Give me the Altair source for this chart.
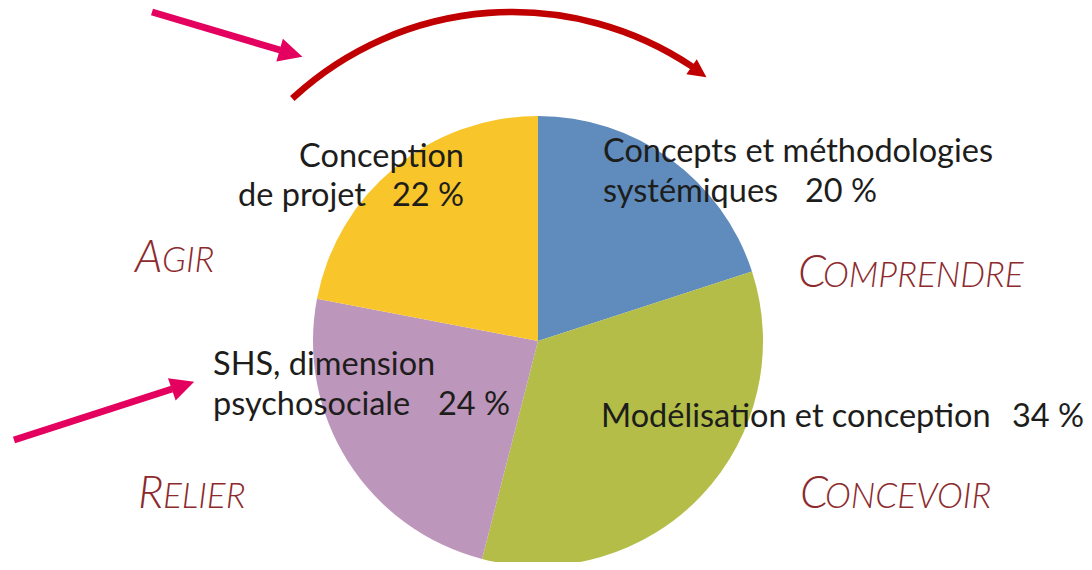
import altair as alt
import pandas as pd

# ---------------- data ----------------
categories = ["Concepts et méthodologies systémiques", "Modélisation et conception",
              "SHS, dimension psychosociale", "Conception de projet"]
shares = [20, 34, 24, 22]
slice_colors = ["#5f8bbd", "#b3bd48", "#bd96bb", "#f8c62b"]

# label text lines (image coordinates: left / baseline)
label_text = ["Concepts et méthodologies", "systémiques", "20 %",
              "Modélisation et conception", "34 %",
              "SHS, dimension", "psychosociale", "24 %",
              "de projet"]
label_x = [603, 603, 805, 601, 1012, 213, 213, 438, 238]
label_y = [162, 202, 202, 427, 427, 375, 415, 415, 206]

right_text = ["Conception", "22 %"]
right_x = [464, 464]
right_y = [167, 206]

# verbs in small caps: big initial + rest
verb_first = ["A", "C", "R", "C"]
verb_rest = ["GIR", "OMPRENDRE", "ELIER", "ONCEVOIR"]
verb_x = [135, 798, 138, 800]
verb_rest_x = [162, 823, 163, 825]
verb_y = [272, 287, 508, 508]

# decorations (arrows)
arrow_id = ["a1", "a1", "a2", "a2"]
arrow_x = [152, 280, 14, 172]
arrow_y = [12, 50, 440, 389]
head_x = [291, 183, 699]
head_y = [53.5, 385.5, 72]
head_angle = [106, 71, 125]
head_size = [560, 560, 330]
head_color = ["#e3005e", "#e3005e", "#c00000"]

W, H = 1076, 554
xs = alt.Scale(domain=[8, 8 + W], range=[0, W])
ys = alt.Scale(domain=[8, 8 + H], range=[0, H])

pie_center = (538, 341)
pie_radius = 225

# ---------------- layers ----------------
shadow = alt.Chart(pd.DataFrame({"v": [1]})).mark_arc(
    radius=pie_radius + 1, color="#9c9c9c", opacity=0.8
).encode(
    theta=alt.Theta("v:Q"),
    x=alt.X(datum=pie_center[0] + 1.5, scale=xs, axis=None),
    y=alt.Y(datum=pie_center[1] + 2, scale=ys, axis=None),
)

pie_df = pd.DataFrame({"cat": categories, "pct": shares, "ord": list(range(len(shares)))})
pie = alt.Chart(pie_df).mark_arc(radius=pie_radius).encode(
    theta=alt.Theta("pct:Q", stack=True),
    color=alt.Color("cat:N", scale=alt.Scale(domain=categories, range=slice_colors), legend=None),
    order=alt.Order("ord:Q"),
    x=alt.X(datum=pie_center[0], scale=xs, axis=None),
    y=alt.Y(datum=pie_center[1], scale=ys, axis=None),
)

red_arc = alt.Chart(pd.DataFrame({"v": [1]})).mark_arc(
    radius=323.6, radius2=323.0, theta=5.5437, theta2=6.873,
    fillOpacity=0, stroke="#c00000", strokeWidth=6
).encode(
    x=alt.X(datum=512.4, scale=xs, axis=None),
    y=alt.Y(datum=335.3, scale=ys, axis=None),
)

arrows_df = pd.DataFrame({"id": arrow_id, "x": arrow_x, "y": arrow_y, "o": [0, 1, 0, 1]})
arrows = alt.Chart(arrows_df).mark_line(color="#e3005e", strokeWidth=7, strokeCap="butt").encode(
    x=alt.X("x:Q", scale=xs, axis=None),
    y=alt.Y("y:Q", scale=ys, axis=None),
    detail="id:N",
    order="o:Q",
)

heads_df = pd.DataFrame({"x": head_x, "y": head_y, "a": head_angle, "s": head_size, "c": head_color})
heads = alt.Chart(heads_df).mark_point(
    shape="M0,-1L1,1L-1,1Z", filled=True, opacity=1, strokeWidth=0
).encode(
    x=alt.X("x:Q", scale=xs, axis=None),
    y=alt.Y("y:Q", scale=ys, axis=None),
    angle=alt.Angle("a:Q", scale=None),
    size=alt.Size("s:Q", scale=None),
    color=alt.Color("c:N", scale=None),
)

FS = 32.5
lab_df = pd.DataFrame({"t": label_text, "x": label_x, "y": label_y})
labels = alt.Chart(lab_df).mark_text(
    align="left", baseline="alphabetic", font="Lato", fontSize=FS, color="#1d1d1b"
).encode(
    x=alt.X("x:Q", scale=xs, axis=None),
    y=alt.Y("y:Q", scale=ys, axis=None),
    text="t:N",
)

rlab_df = pd.DataFrame({"t": right_text, "x": right_x, "y": right_y})
rlabels = alt.Chart(rlab_df).mark_text(
    align="right", baseline="alphabetic", font="Lato", fontSize=FS, color="#1d1d1b"
).encode(
    x=alt.X("x:Q", scale=xs, axis=None),
    y=alt.Y("y:Q", scale=ys, axis=None),
    text="t:N",
)

verb_color = "#8c2a2d"
v1_df = pd.DataFrame({"t": verb_first, "x": verb_x, "y": verb_y})
verbs1 = alt.Chart(v1_df).mark_text(
    align="left", baseline="alphabetic", font="Lato", fontSize=45, fontStyle="italic",
    fontWeight=300, color=verb_color
).encode(
    x=alt.X("x:Q", scale=xs, axis=None),
    y=alt.Y("y:Q", scale=ys, axis=None),
    text="t:N",
)
v2_df = pd.DataFrame({"t": verb_rest, "x": verb_rest_x, "y": verb_y})
verbs2 = alt.Chart(v2_df).mark_text(
    align="left", baseline="alphabetic", font="Lato", fontSize=35, fontStyle="italic",
    fontWeight=300, color=verb_color
).encode(
    x=alt.X("x:Q", scale=xs, axis=None),
    y=alt.Y("y:Q", scale=ys, axis=None),
    text="t:N",
)

chart = alt.layer(
    shadow, pie, red_arc, arrows, heads, labels, rlabels, verbs1, verbs2
).properties(
    width=W, height=H, padding=0, autosize=alt.AutoSizeParams(type="none")
).configure_view(stroke="transparent", strokeWidth=0)

chart.save("out.html", embed_options={"renderer": "svg", "actions": False})
